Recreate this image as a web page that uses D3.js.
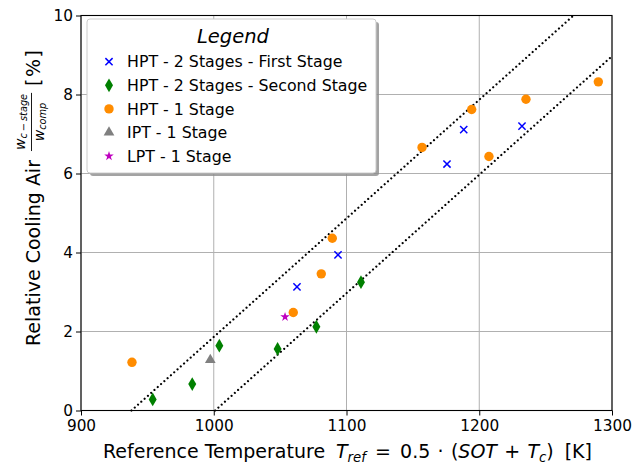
<!DOCTYPE html>
<html>
<head>
<meta charset="utf-8">
<script src="https://cdn.jsdelivr.net/npm/d3@7"></script>
<style>
  html, body { margin: 0; padding: 0; background: #fff; }
  svg { display: block; font-family: "DejaVu Sans", sans-serif; }
</style>
</head>
<body>
<svg id="chart" width="644" height="465"></svg>
<script>
// ---- Data ----
const xTicks = [900, 1000, 1100, 1200, 1300];
const yTicks = [0, 2, 4, 6, 8, 10];

const hpt2FirstT = [1062.7, 1093.6, 1175.7, 1188.3, 1232.2];
const hpt2FirstV = [3.13, 3.94, 6.24, 7.11, 7.20];

const hpt2SecondT = [954.0, 983.8, 1004.2, 1048.1, 1077.3, 1110.9];
const hpt2SecondV = [0.28, 0.67, 1.64, 1.56, 2.12, 3.25];

const hpt1T = [938.4, 1059.9, 1081.0, 1089.3, 1156.9, 1194.3, 1207.3, 1235.2, 1289.7];
const hpt1V = [1.22, 2.48, 3.46, 4.36, 6.66, 7.62, 6.43, 7.88, 8.32];

const ipt1T = [997.4];
const ipt1V = [1.28];

const lpt1T = [1053.7];
const lpt1V = [2.37];

const upperLineT = [938, 1271];
const upperLineV = [0, 10];
const lowerLineT = [1001, 1300];
const lowerLineV = [0, 8.97];

const legendLabels = [
  "HPT - 2 Stages - First Stage",
  "HPT - 2 Stages - Second Stage",
  "HPT - 1 Stage",
  "IPT - 1 Stage",
  "LPT - 1 Stage"
];

// ---- Layout ----
const svg = d3.select("#chart");
const L = 81, R = 612, T = 15.5, B = 410.5;
const x = d3.scaleLinear().domain([900, 1300]).range([L, R]);
const y = d3.scaleLinear().domain([0, 10]).range([B, T]);

// grid
const grid = svg.append("g");
grid.selectAll("line.gx").data(xTicks).join("line")
  .attr("x1", d => x(d)).attr("x2", d => x(d))
  .attr("y1", T).attr("y2", B)
  .attr("stroke", "#b0b0b0").attr("stroke-width", 1);
grid.selectAll("line.gy").data(yTicks).join("line")
  .attr("y1", d => y(d)).attr("y2", d => y(d))
  .attr("x1", L).attr("x2", R)
  .attr("stroke", "#b0b0b0").attr("stroke-width", 1);

// dotted lines
const line = d3.line().x(d => x(d[0])).y(d => y(d[1]));
[[upperLineT, upperLineV], [lowerLineT, lowerLineV]].forEach(([ts, vs]) => {
  svg.append("path")
    .datum(ts.map((t, i) => [t, vs[i]]))
    .attr("d", line)
    .attr("fill", "none")
    .attr("stroke", "#000")
    .attr("stroke-width", 2.2)
    .attr("stroke-linecap", "round")
    .attr("stroke-dasharray", "0.01,4.4");
});

// marker makers
const markers = {
  x: g => g.append("path").attr("d", "M-3.6,-3.6L3.6,3.6M-3.6,3.6L3.6,-3.6")
          .attr("stroke", "#0000ff").attr("stroke-width", 1.5).attr("fill", "none"),
  diamond: g => g.append("path").attr("d", "M0,-6.9L4,0L0,6.9L-4,0Z").attr("fill", "#008000"),
  circle: g => g.append("circle").attr("r", 4.7).attr("fill", "#ff8c00"),
  tri: g => g.append("path").attr("d", d3.symbol(d3.symbolTriangle, 50)()).attr("fill", "#808080"),
  star: g => g.append("path").attr("d", d3.symbol(d3.symbolStar, 28)()).attr("fill", "#bf00bf")
};

const series = [
  { t: hpt2FirstT, v: hpt2FirstV, m: "x" },
  { t: hpt2SecondT, v: hpt2SecondV, m: "diamond" },
  { t: hpt1T, v: hpt1V, m: "circle" },
  { t: ipt1T, v: ipt1V, m: "tri" },
  { t: lpt1T, v: lpt1V, m: "star" }
];

const marks = svg.append("g");
series.forEach(s => {
  s.t.forEach((t, i) => {
    const g = marks.append("g").attr("transform", `translate(${x(t)},${y(s.v[i])})`);
    markers[s.m](g);
  });
});

// axes
const xAxis = d3.axisBottom(x).tickValues(xTicks).tickSize(5).tickPadding(4).tickFormat(d3.format("d"));
const yAxis = d3.axisLeft(y).tickValues(yTicks).tickSize(5).tickPadding(4).tickFormat(d3.format("d"));
const gx = svg.append("g").attr("transform", `translate(0,${B})`).call(xAxis);
const gy = svg.append("g").attr("transform", `translate(${L},0)`).call(yAxis);
[gx, gy].forEach(g => {
  g.select(".domain").remove();
  g.selectAll("line").attr("stroke", "#000").attr("stroke-width", 1);
  g.selectAll("text").attr("font-family", "DejaVu Sans").attr("font-size", 15.3).attr("fill", "#000");
});
gx.selectAll("text").attr("y", 10);
gy.selectAll("text").attr("x", -8);

// spines
svg.append("rect").attr("x", L).attr("y", T).attr("width", R - L).attr("height", B - T)
  .attr("fill", "none").attr("stroke", "#000").attr("stroke-width", 1.1);

// legend
const lg = svg.append("g");
const lx = 87, ly = 19, lw = 289, lh = 154;
lg.append("rect").attr("x", lx + 3).attr("y", ly + 3).attr("width", lw).attr("height", lh)
  .attr("rx", 3).attr("fill", "#8c8c8c").attr("opacity", 0.8);
lg.append("rect").attr("x", lx).attr("y", ly).attr("width", lw).attr("height", lh)
  .attr("rx", 3).attr("fill", "#fff").attr("stroke", "#cccccc").attr("stroke-width", 1);
lg.append("text").attr("x", lx + 146).attr("y", ly + 24)
  .attr("text-anchor", "middle").attr("font-style", "italic").attr("font-size", 19.5)
  .attr("fill", "#000").text("Legend");
const keys = ["x", "diamond", "circle", "tri", "star"];
legendLabels.forEach((lab, i) => {
  const cy = 61.7 + i * 23.6;
  const g = lg.append("g").attr("transform", `translate(109,${cy})`);
  markers[keys[i]](g);
  lg.append("text").attr("x", 127).attr("y", cy + 5.6).attr("font-size", 15.8)
    .attr("fill", "#000").text(lab);
});

// ---- flow layout helper for math-like labels ----
function flow(parent, pieces, start, end, baseY) {
  const nodes = pieces.map(p => {
    const n = parent.append("text").attr("y", baseY + (p.dy || 0)).text(p.t);
    if (p.it) n.attr("font-style", "italic");
    if (p.fs) n.attr("font-size", p.fs);
    return { n, w: n.node().getComputedTextLength(), g: p.gap || 0 };
  });
  const W0 = d3.sum(nodes, d => d.w);
  const G = d3.sum(nodes, d => d.g);
  const unit = G > 0 ? Math.max(0, (end - start - W0) / G) : 0;
  let pos = start;
  nodes.forEach(d => { pos += d.g * unit; d.n.attr("x", pos); pos += d.w; });
}

// x label
const xg = svg.append("g").attr("fill", "#000").attr("font-size", 19);
flow(xg, [
  { t: "Reference Temperature" },
  { t: "T", it: true, gap: 1.2 },
  { t: "ref", it: true, fs: 13.3, dy: 4 },
  { t: "=", gap: 1 },
  { t: "0.5", gap: 1 },
  { t: "\u00B7", gap: 0.8 },
  { t: "(", gap: 0.8 },
  { t: "SOT", it: true },
  { t: "+", gap: 0.8 },
  { t: "T", it: true, gap: 0.8 },
  { t: "c", it: true, fs: 13.3, dy: 4 },
  { t: ")" },
  { t: "[K]", gap: 1.2 }
], 103, 592, 458);

// y label (rotated)
const yl = svg.append("g").attr("transform", "translate(40,346) rotate(-90)")
  .attr("fill", "#000").attr("font-size", 19);
const t1 = yl.append("text").attr("x", 0).attr("y", 0).text("Relative Cooling Air");
const w1 = t1.node().getComputedTextLength();
const fx = w1 + 9;
const num = yl.append("text").attr("y", -15.5).attr("font-size", 14);
num.append("tspan").attr("font-style", "italic").text("w");
num.append("tspan").attr("font-style", "italic").attr("font-size", 9.8).attr("dy", 2.5).text("c\u2009\u2212\u2009stage");
const den = yl.append("text").attr("y", 3.5).attr("font-size", 14);
den.append("tspan").attr("font-style", "italic").text("w");
den.append("tspan").attr("font-style", "italic").attr("font-size", 9.8).attr("dy", 2.5).text("comp");
const nw = num.node().getComputedTextLength(), dw = den.node().getComputedTextLength();
const fw = Math.max(nw, dw) + 2;
num.attr("x", fx + (fw - nw) / 2);
den.attr("x", fx + (fw - dw) / 2);
yl.append("line").attr("x1", fx).attr("x2", fx + fw).attr("y1", -8.5).attr("y2", -8.5)
  .attr("stroke", "#000").attr("stroke-width", 0.9);
const pctG = yl.append("g");
flow(pctG, [
  { t: "[" }, { t: "%", gap: 1 }, { t: "]", gap: 1 }
], fx + fw + 7, 296, 0);
</script>
</body>
</html>
